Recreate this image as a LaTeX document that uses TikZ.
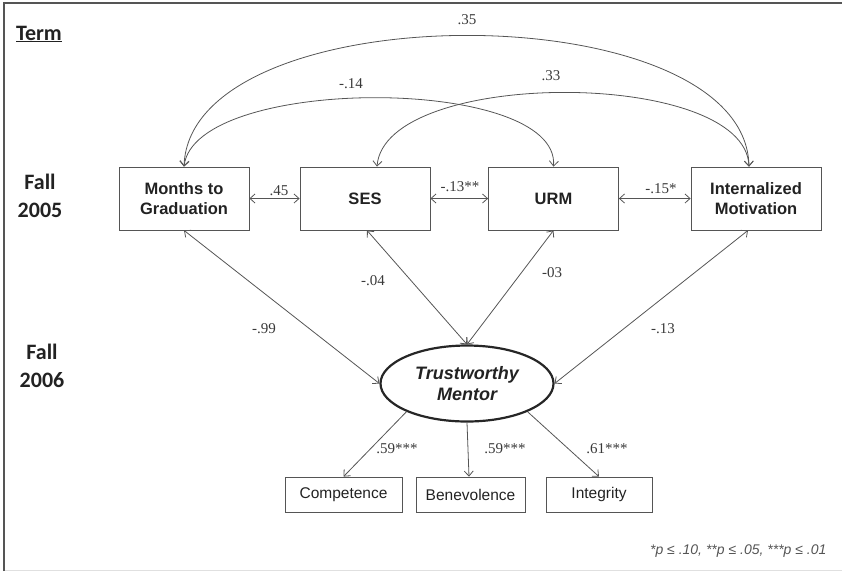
\documentclass[tikz,border=0pt]{standalone}
\usepackage{fontspec}
\usepackage{tikz}
\usetikzlibrary{arrows.meta,shapes.geometric}
\setmainfont{Liberation Sans}
\newfontfamily\numfont{Liberation Serif}
\newfontfamily\termfont{Carlito}
\definecolor{linegray}{HTML}{555555}
\definecolor{textgray}{HTML}{222222}
\definecolor{numgray}{HTML}{3A3A3A}

\tikzset{
	box/.style={draw=linegray, line width=0.8pt, minimum width=130pt, minimum height=63pt,
		align=center, text=textgray, font=\bfseries\fontsize{16.5}{19.5}\selectfont},
	smallbox/.style={draw=linegray, line width=0.8pt, minimum height=35pt,
		text=textgray, font=\fontsize{15.5}{18}\selectfont},
	coef/.style={text=numgray, font=\numfont\fontsize{15}{17}\selectfont, inner sep=0pt},
	termlabel/.style={text=textgray, align=center, font=\termfont\bfseries\fontsize{22}{28}\selectfont},
	link/.style={draw=linegray, line width=0.8pt}
}

\begin{document}
\begin{tikzpicture}[x=1pt, y=-1pt, >={Straight Barb[length=5pt,width=9pt]}]
			\useasboundingbox (0,0) rectangle (842,571);
			% frame
			\draw[line width=1.6pt, color=linegray] (4,571) -- (4,3) -- (842,3);
			\draw[line width=0.8pt, color=black!12] (5,570) -- (842,570);

			% terms
			\node[termlabel] (term) at (39,34) {\underline{Term}};
			\node[termlabel] (fa05) at (40,196) {Fall\\2005};
			\node[termlabel] (fa06) at (42,366) {Fall\\2006};

			% measured variables, fall 2005
			\node[box] (mon) at (184,198.5) {Months to\\Graduation};
			\node[box] (ses) at (365,198.5) {SES};
			\node[box] (urm) at (553.5,198.5) {URM};
			\node[box] (im) at (756,198.5) {Internalized\\Motivation};

			% latent variable, fall 2006
			\node[draw=black!85, line width=2.2pt, ellipse, minimum width=173pt, minimum height=76pt,
				inner sep=0pt, align=center, text=textgray,
				font=\bfseries\itshape\fontsize{18}{21}\selectfont] (tm) at (467,383.5) {Trustworthy\\Mentor};

			% indicators
			\node[smallbox, minimum width=117pt] (comp) at (343.5,494.5) {Competence};
			\node[smallbox, minimum width=109pt] (ben) at (470.5,494.5) {Benevolence};
			\node[smallbox, minimum width=106pt] (integ) at (599,494.5) {Integrity};

			% correlations between the fall 2005 variables
			\draw[link, <->] (mon.east) -- (ses.west);
			\draw[link, <->] (ses.east) -- (urm.west);
			\draw[link, <->] (urm.east) -- (im.west);
			\draw[link, <->] (mon.north) .. controls (190,-8) and (745,-8) .. ([xshift=-7pt]im.north);
			\draw[link, <->] (mon.north) .. controls (195,75) and (560,75) .. (urm.north);
			\draw[link, <->] ([xshift=12pt]ses.north) .. controls (385,68) and (745,68) .. ([xshift=-7pt]im.north);

			% paths to the mentor
			\draw[link, <->] (mon.south) -- (tm.west);
			\draw[link, <->] ([xshift=2pt]ses.south) -- (tm.north);
			\draw[link, <->] (urm.south) -- (tm.north);
			\draw[link, <->] ([xshift=-8pt]im.south) -- (tm.east);

			% loadings
			\draw[link, ->] (tm.205) -- (comp.north);
			\draw[link, ->] (tm.south) -- ([xshift=-1.5pt]ben.north);
			\draw[link, ->] (tm.-25) -- (integ.north);

			% coefficients
			\node[coef] (c45) at (279,191) {.45};
			\node[coef] (c13a) at (460,187) {-.13**};
			\node[coef] (c15) at (661,189) {-.15*};
			\node[coef] (c35) at (467,20) {.35};
			\node[coef] (c14) at (351,84) {-.14};
			\node[coef] (c33) at (551,76) {.33};
			\node[coef] (c99) at (264,329) {-.99};
			\node[coef] (c04) at (373,281) {-.04};
			\node[coef] (c03) at (552,273) {-03};
			\node[coef] (c13b) at (663,329) {-.13};
			\node[coef] (l1) at (397,449) {.59***};
			\node[coef] (l2) at (505,449) {.59***};
			\node[coef] (l3) at (607,449) {.61***};

			\node[anchor=east, text=linegray, font=\itshape\fontsize{14}{16}\selectfont] (sig) at (830,551)
				{*p ≤ .10, **p ≤ .05, ***p ≤ .01};
		\end{tikzpicture}
\end{document}
